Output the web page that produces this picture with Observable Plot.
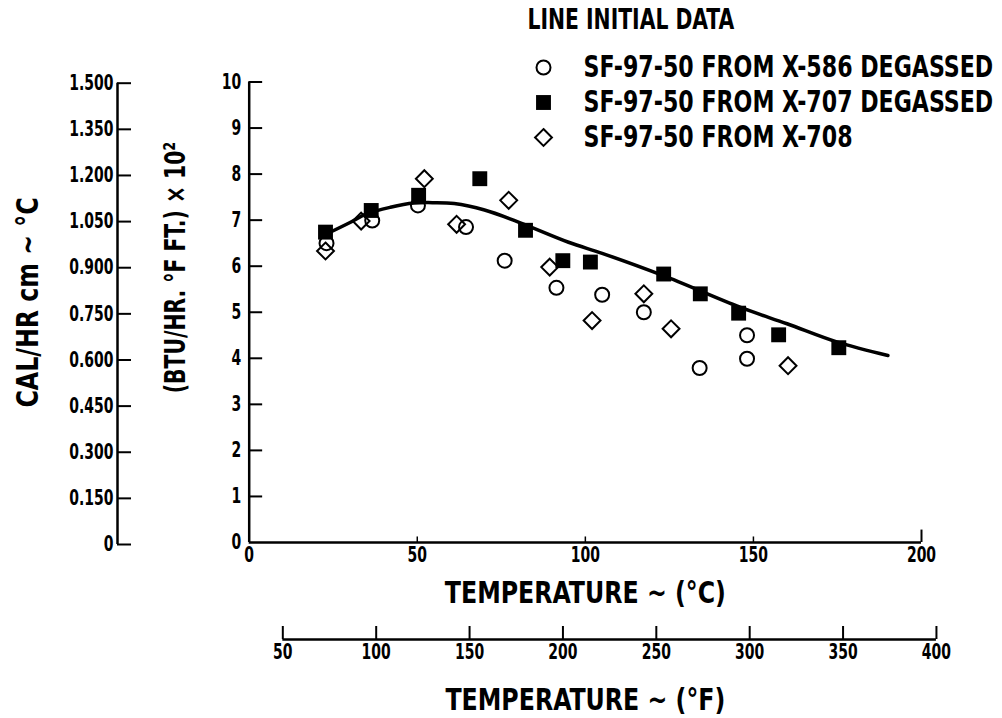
<!DOCTYPE html>
<html><head><meta charset="utf-8">
<script src="https://cdn.jsdelivr.net/npm/d3@7"></script>
<script src="https://cdn.jsdelivr.net/npm/@observablehq/plot@0.6"></script>
<style>
body{margin:0;background:#fff;}
#wrap{position:relative;width:1002px;height:718px;overflow:hidden;background:#fff;}
#wrap svg{position:absolute;left:0;top:0;}
</style></head><body><div id="wrap"></div>
<script>
// ---- data ----
const seriesNames = ["SF-97-50 FROM X-586 DEGASSED", "SF-97-50 FROM X-707 DEGASSED", "SF-97-50 FROM X-708"];
const legendTitle = "LINE INITIAL DATA";

const x586Temp = [23.0, 36.6, 50.2, 64.5, 76.0, 91.4, 105.0, 117.4, 134.0, 148.1, 148.1];
const x586K    = [6.50, 6.99, 7.32, 6.85, 6.12, 5.53, 5.38, 5.00, 3.79, 4.50, 3.99];

const x707Temp = [22.7, 36.3, 50.4, 68.6, 82.2, 93.3, 101.5, 123.3, 134.2, 145.6, 157.5, 175.4];
const x707K    = [6.74, 7.21, 7.54, 7.90, 6.78, 6.12, 6.09, 5.83, 5.40, 4.98, 4.51, 4.23];

const x708Temp = [22.7, 33.3, 52.1, 61.7, 77.2, 89.4, 102.0, 117.4, 125.5, 160.3];
const x708K    = [6.33, 6.98, 7.90, 6.91, 7.43, 5.98, 4.82, 5.40, 4.64, 3.84];

const lineTemp = [22.7, 30, 35, 42, 49, 55, 61, 70, 79, 95, 105, 123, 146, 160, 175, 190];
const lineK    = [6.69, 6.95, 7.14, 7.28, 7.37, 7.38, 7.36, 7.22, 6.99, 6.52, 6.28, 5.80, 5.11, 4.75, 4.35, 4.06];

const yTicks   = [0, 1, 2, 3, 4, 5, 6, 7, 8, 9, 10];
const cTicks   = [0, 50, 100, 150, 200];
const fTicks   = [50, 100, 150, 200, 250, 300, 350, 400];
const calTicks = [0, 0.15, 0.30, 0.45, 0.60, 0.75, 0.90, 1.05, 1.20, 1.35, 1.50];

const xTitleC = "TEMPERATURE ~ (°C)";
const xTitleF = "TEMPERATURE ~ (°F)";
const yTitleBTU = "(BTU/HR. °F FT.) × 10²";
const yTitleCAL = "CAL/HR cm ~ °C";

// ---- build tables ----
const zip = (t, k) => t.map((d, i) => ({t: d, k: k[i]}));
const pts586 = zip(x586Temp, x586K);
const pts707 = zip(x707Temp, x707K);
const pts708 = zip(x708Temp, x708K);
const curve = zip(lineTemp, lineK);

const FONT = '"Liberation Sans Narrow","DejaVu Sans Condensed","DejaVu Sans",sans-serif';
const baseStyle = {fontFamily: FONT, fontWeight: "bold", fontSize: "21px", color: "#000", background: "transparent", overflow: "visible"};
const W = 1002, H = 718;
const mL = 248.7, mR = 81, mT = 81.5, mB = 176;
const TICK_FS = 21;

const wrap = document.getElementById("wrap");

// main chart
const main = Plot.plot({
  width: W, height: H,
  marginLeft: mL, marginRight: mR, marginTop: mT, marginBottom: mB,
  style: baseStyle,
  x: {domain: [0, 200]},
  y: {domain: [0, 10]},
  marks: [
    Plot.ruleX([0], {stroke: "#000", strokeWidth: 2.5}),
    Plot.ruleY([0], {stroke: "#000", strokeWidth: 2.5}),
    Plot.ruleY(yTicks.filter(d => d > 0), {x1: 0, x2: 4, stroke: "#000", strokeWidth: 2}),
    Plot.ruleX(cTicks.filter(d => d > 0 && d < 200), {y1: 0, y2: 0.12, stroke: "#000", strokeWidth: 1.5}),
    Plot.ruleX([200], {y1: 0, y2: 0.27, stroke: "#000", strokeWidth: 2}),
    Plot.axisY(yTicks, {tickSize: 0, tickPadding: 8, label: null, fontSize: TICK_FS}),
    Plot.axisX(cTicks, {tickSize: 0, tickPadding: 5, label: null, fontSize: TICK_FS}),
    Plot.line(curve, {x: "t", y: "k", curve: "catmull-rom", stroke: "#000", strokeWidth: 3.5}),
    Plot.dot(pts586, {x: "t", y: "k", symbol: "circle", r: 7, fill: "none", stroke: "#000", strokeWidth: 2}),
    Plot.dot(pts708, {x: "t", y: "k", symbol: "diamond2", r: 7.6, fill: "none", stroke: "#000", strokeWidth: 2}),
    Plot.dot(pts707, {x: "t", y: "k", symbol: "square", r: 8.4, fill: "#000", stroke: "none"}),
    Plot.text([xTitleC], {frameAnchor: "bottom", lineAnchor: "middle", textAnchor: "middle", dy: 51, fontSize: 31}),
    Plot.text([xTitleF], {frameAnchor: "bottom", lineAnchor: "middle", textAnchor: "middle", dy: 158, fontSize: 31}),
    Plot.text([yTitleBTU], {frameAnchor: "left", lineAnchor: "middle", textAnchor: "middle", rotate: -90, dx: 175 - mL, dy: 267 - 311.75, fontSize: 29}),
    Plot.text([yTitleCAL], {frameAnchor: "left", lineAnchor: "middle", textAnchor: "middle", rotate: -90, dx: 28 - mL, dy: 302 - 311.75, fontSize: 31})
  ]
});
wrap.appendChild(main);

// secondary left axis (CAL/HR cm °C)
const cal = Plot.plot({
  width: W, height: H,
  marginLeft: 117, marginRight: W - 131, marginTop: 82.7, marginBottom: H - 544,
  style: baseStyle,
  x: {domain: [0, 1], axis: null},
  y: {domain: [0, 1.5]},
  marks: [
    Plot.ruleX([0], {stroke: "#000", strokeWidth: 2.5}),
    Plot.ruleY(calTicks, {x1: 0, x2: 1, stroke: "#000", strokeWidth: 2}),
    Plot.axisY(calTicks, {tickSize: 0, tickPadding: 4, label: null, fontSize: TICK_FS,
      tickFormat: d => d === 0 ? "0" : d.toFixed(3)})
  ]
});
wrap.appendChild(cal);

// secondary bottom axis (°F), aligned with the °C scale
const fah = Plot.plot({
  width: W, height: H,
  marginLeft: mL, marginRight: mR, marginTop: 626, marginBottom: H - 639,
  style: baseStyle,
  x: {domain: [32, 392]},
  y: {domain: [0, 1], axis: null},
  marks: [
    Plot.ruleY([0], {x1: 50, x2: 400, stroke: "#000", strokeWidth: 2.5}),
    Plot.ruleX(fTicks, {y1: 0, y2: 1, stroke: "#000", strokeWidth: 2}),
    Plot.axisX(fTicks, {tickSize: 0, tickPadding: 5, label: null, fontSize: TICK_FS})
  ]
});
wrap.appendChild(fah);

// legend
const legend = Plot.plot({
  width: W, height: H,
  marginLeft: 543, marginRight: W - 583, marginTop: 66, marginBottom: H - 137,
  style: baseStyle,
  x: {domain: [0, 1], axis: null},
  y: {type: "point", domain: seriesNames, padding: 0, axis: null},
  marks: [
    Plot.dot([seriesNames[0]], {x: 0, y: d => d, symbol: "circle", r: 7, fill: "none", stroke: "#000", strokeWidth: 2}),
    Plot.dot([seriesNames[1]], {x: 0, y: d => d, symbol: "square", r: 8.4, fill: "#000", stroke: "none"}),
    Plot.dot([seriesNames[2]], {x: 0, y: d => d, symbol: "diamond2", r: 7.6, fill: "none", stroke: "#000", strokeWidth: 2}),
    Plot.text(seriesNames, {x: 1, y: d => d, text: d => d, textAnchor: "start", lineAnchor: "middle", fontSize: 30}),
    Plot.text([legendTitle], {frameAnchor: "top-left", textAnchor: "start", lineAnchor: "middle", dx: -16, dy: 19 - 66, fontSize: 29})
  ]
});
wrap.appendChild(legend);

// condensed lettering like the original: squeeze each text along its own direction
const squeeze = {21: 0.74, 29: 0.78, 30: 0.82, 31: 0.85};
wrap.querySelectorAll("text").forEach(t => {
  const fs = Math.round(parseFloat(getComputedStyle(t).fontSize));
  const f = squeeze[fs] || 0.8;
  const x = parseFloat(t.getAttribute("x")) || 0;
  const y = parseFloat(t.getAttribute("y")) || 0;
  const tr = t.getAttribute("transform") || "";
  t.setAttribute("transform", `${tr} translate(${x},${y}) scale(${f},1) translate(${-x},${-y})`);
});
</script>
</body></html>
